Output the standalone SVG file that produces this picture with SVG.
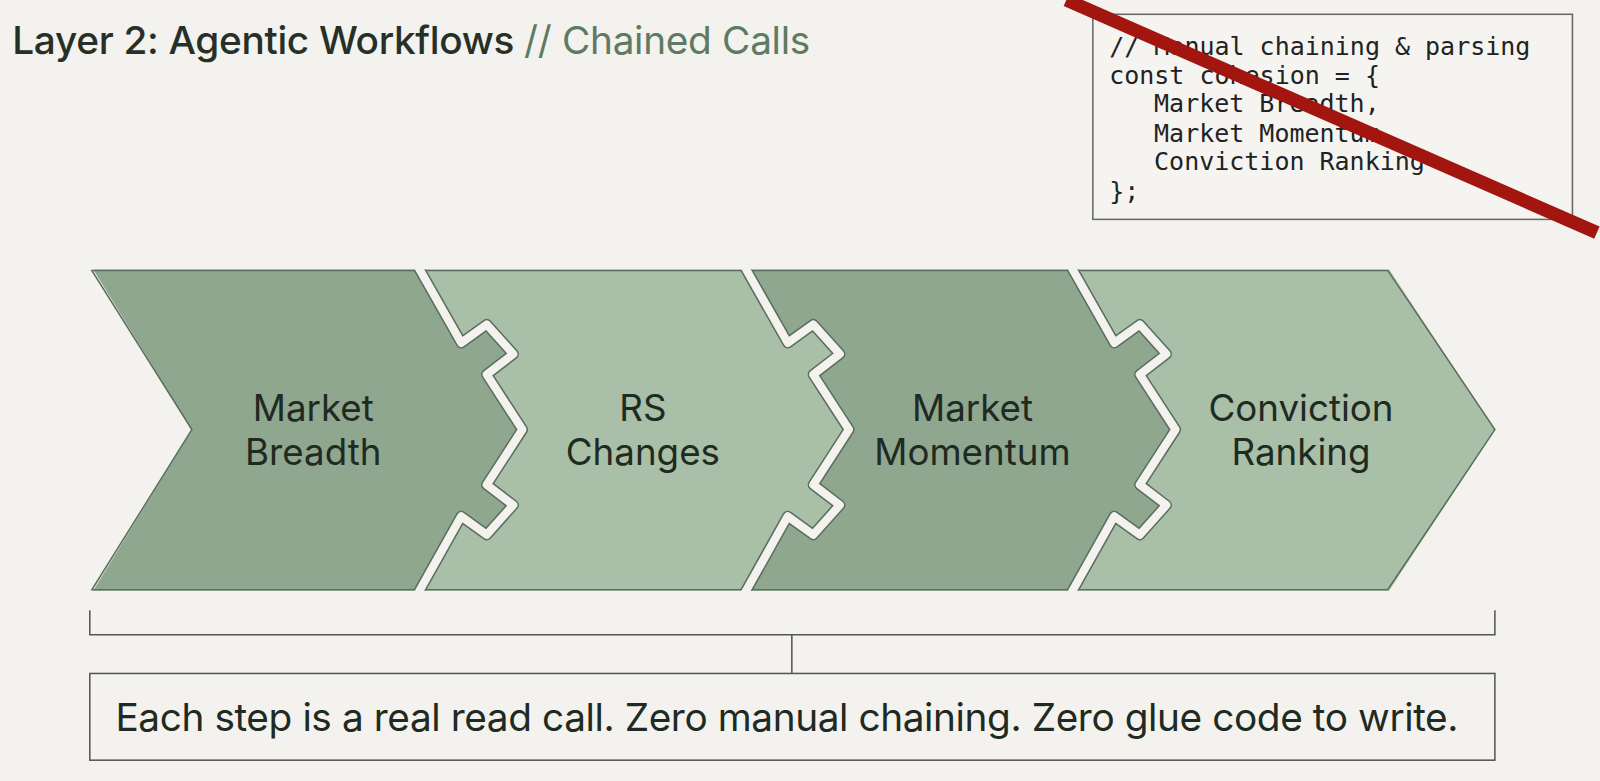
<svg xmlns="http://www.w3.org/2000/svg" width="1600" height="781" viewBox="0 0 1600 781">
<style>
.lbl{font-family:Inter,"Liberation Sans",sans-serif;font-size:36px;fill:#1f2a22;text-anchor:middle}
.code{font-family:"DejaVu Sans Mono","Liberation Mono",monospace;font-size:24.5px;fill:#222}
.dark{fill:#8fa68f}.light{fill:#a9bfa7}
.seamO{fill:none;stroke:#5a6e5c;stroke-width:11;stroke-linejoin:round}
.seamI{fill:none;stroke:#f3f2ee;stroke-width:8;stroke-linejoin:round}
.ln{fill:none;stroke:#555;stroke-width:1.5}
</style>
<defs>
<polyline id="seam" points="0,262 42,336 67,318 93,347 67,367 102,421 67,475 93,495 67,524 42,506 0,581"/>
</defs>
<rect width="1600" height="781" fill="#f3f2ee"/>
<g transform="scale(1.0204)">
<g id="title"><text x="12" y="53" font-family="Inter,'Liberation Sans',sans-serif" font-size="38" font-weight="500" fill="#263028" letter-spacing="-0.3">Layer 2: Agentic Workflows <tspan fill="#5e7a62" font-weight="400">// Chained Calls</tspan></text></g>
<g id="code">
<rect x="1071" y="14" width="470" height="201" fill="#f5f4f0" stroke="#666" stroke-width="1.5"/>
<text class="code" x="1087" y="54">// Manual chaining &amp; parsing</text>
<text class="code" x="1087" y="82">const cohesion = {</text>
<text class="code" x="1131" y="110">Market Breadth,</text>
<text class="code" x="1131" y="139">Market Momentum,</text>
<text class="code" x="1131" y="167">Conviction Ranking</text>
<text class="code" x="1087" y="196">};</text>
<line x1="1045" y1="0" x2="1565" y2="228" stroke="#a3150f" stroke-width="13"/>
</g>
<g id="piece1"><path class="dark" d="M90,262 L410,262 452,336 477,318 503,347 477,367 512,421 477,475 503,495 477,524 452,506 410,581 L90,581 L188,421 Z"/><text class="lbl" x="307" y="413">Market</text><text class="lbl" x="307" y="456">Breadth</text></g>
<g id="piece2"><path class="light" d="M410,262 452,336 477,318 503,347 477,367 512,421 477,475 503,495 477,524 452,506 410,581 L730,581 772,506 797,524 823,495 797,475 832,421 797,367 823,347 797,318 772,336 730,262 Z"/><text class="lbl" x="630" y="413">RS</text><text class="lbl" x="630" y="456">Changes</text></g>
<g id="piece3"><path class="dark" d="M730,262 772,336 797,318 823,347 797,367 832,421 797,475 823,495 797,524 772,506 730,581 L1050,581 1092,506 1117,524 1143,495 1117,475 1152,421 1117,367 1143,347 1117,318 1092,336 1050,262 Z"/><text class="lbl" x="953" y="413">Market</text><text class="lbl" x="953" y="456">Momentum</text></g>
<g id="piece4"><path class="light" d="M1050,262 1092,336 1117,318 1143,347 1117,367 1152,421 1117,475 1143,495 1117,524 1092,506 1050,581 L1360,581 L1465,421 L1360,262 Z"/><text class="lbl" x="1275" y="413">Conviction</text><text class="lbl" x="1275" y="456">Ranking</text></g>
<g id="connectors">
<path d="M90,265 L1360,265 L1465,421 L1360,578 L90,578 L188,421 Z" fill="none" stroke="#5a6e5c" stroke-width="1.5"/>
<use href="#seam" class="seamO" x="410"/><use href="#seam" class="seamI" x="410"/>
<use href="#seam" class="seamO" x="730"/><use href="#seam" class="seamI" x="730"/>
<use href="#seam" class="seamO" x="1050"/><use href="#seam" class="seamI" x="1050"/>
<rect x="0" y="255" width="1600" height="9" fill="#f3f2ee"/>
<rect x="0" y="579" width="1600" height="9" fill="#f3f2ee"/>
<path class="ln" d="M88,598 V622 H1465 V598 M776,622 V660"/>
</g>
<g id="summary"><rect x="88" y="660" width="1377" height="85" fill="none" stroke="#555" stroke-width="1.5"/>
<text x="771" y="716" font-family="Inter,'Liberation Sans',sans-serif" font-size="38" fill="#1f2a22" text-anchor="middle" letter-spacing="-0.4">Each step is a real read call. Zero manual chaining. Zero glue code to write.</text></g>
</g>
</svg>
